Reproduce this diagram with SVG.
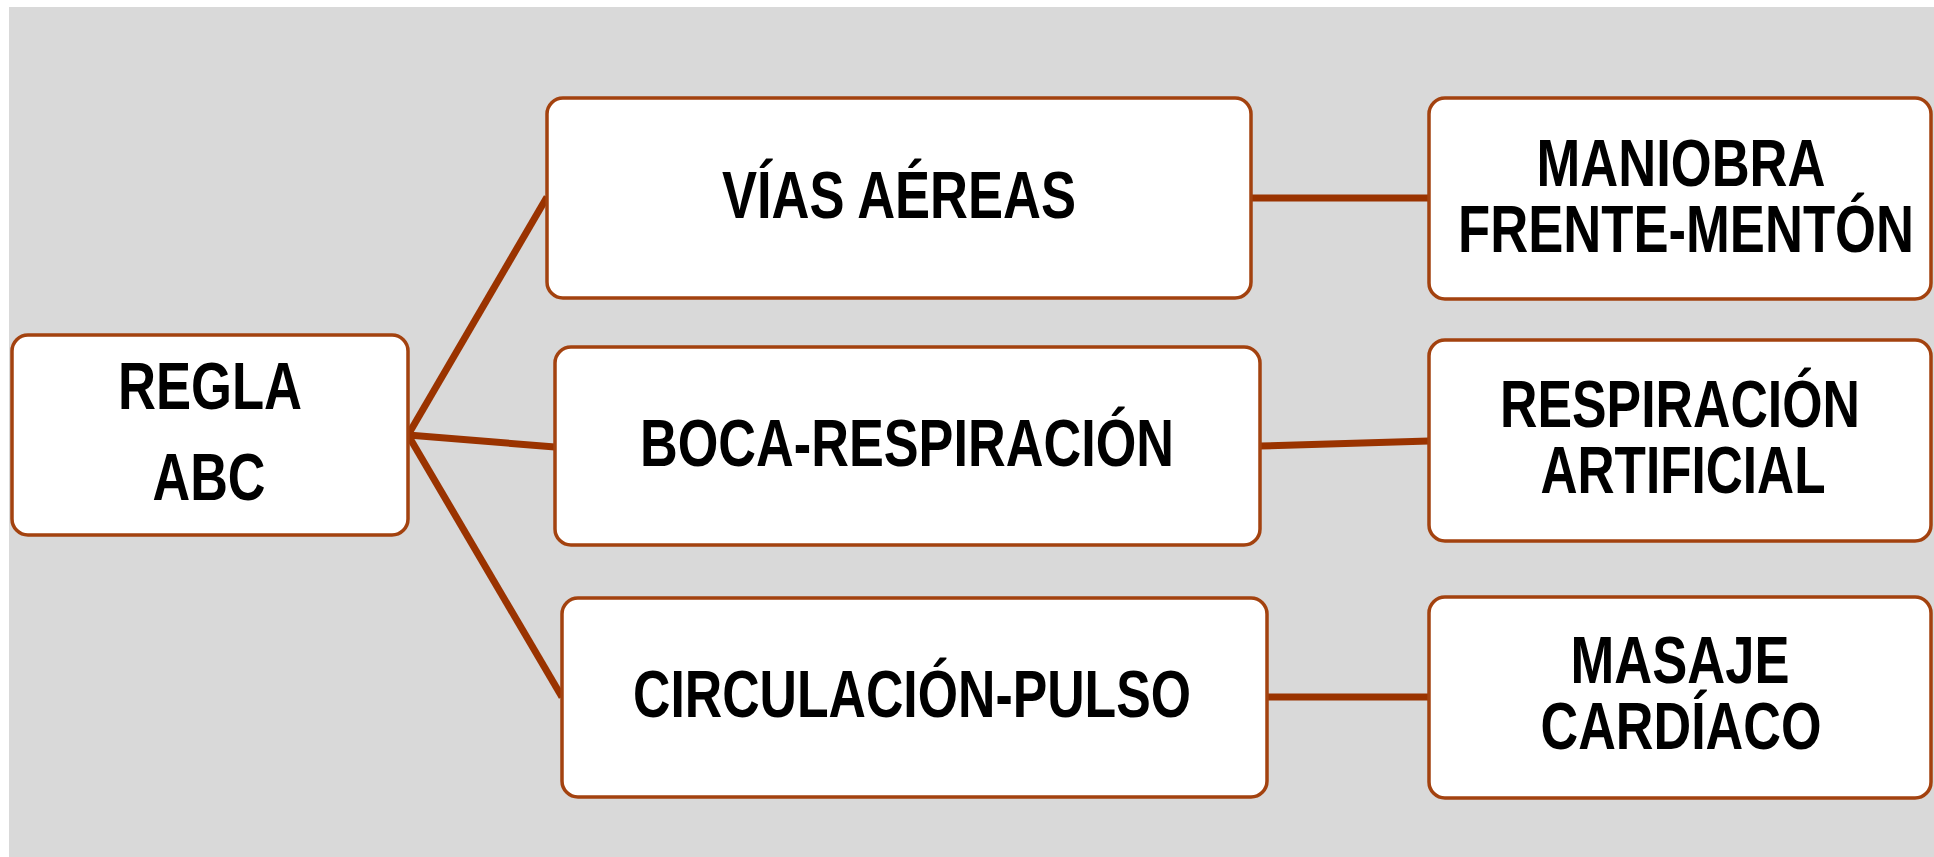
<svg xmlns="http://www.w3.org/2000/svg" width="1934" height="857" viewBox="0 0 1934 857">
<style>
.box{fill:#ffffff;stroke:#a3420f;stroke-width:3.5}
.lbl{font-family:"Liberation Sans",Arial,sans-serif;font-weight:bold;font-size:66px;fill:#000000;text-anchor:middle}
.conn{stroke:#9a3300;stroke-width:7;fill:none;stroke-linecap:butt}
</style>
<rect x="0" y="0" width="1934" height="857" fill="#ffffff"/>
<rect x="9" y="7" width="1925" height="850" fill="#d9d9d9"/>
<g id="connectors">
<line class="conn" x1="408" y1="435" x2="547" y2="197"/>
<line class="conn" x1="408" y1="435" x2="555" y2="447"/>
<line class="conn" x1="408" y1="435" x2="562" y2="697"/>
<line class="conn" x1="1251" y1="198" x2="1429" y2="198"/>
<line class="conn" x1="1260" y1="446" x2="1429" y2="441"/>
<line class="conn" x1="1267" y1="697" x2="1429" y2="697"/>
</g>
<g id="regla">
<rect class="box" x="12" y="335" width="396" height="200" rx="16"/>
<text class="lbl" x="210" y="409" textLength="184" lengthAdjust="spacingAndGlyphs">REGLA</text>
<text class="lbl" x="209" y="500" textLength="113" lengthAdjust="spacingAndGlyphs">ABC</text>
</g>
<g id="vias">
<rect class="box" x="547" y="98" width="704" height="200" rx="16"/>
<text class="lbl" x="899" y="218" textLength="354" lengthAdjust="spacingAndGlyphs">VÍAS AÉREAS</text>
</g>
<g id="boca">
<rect class="box" x="555" y="347" width="705" height="198" rx="16"/>
<text class="lbl" x="907" y="466" textLength="534" lengthAdjust="spacingAndGlyphs">BOCA-RESPIRACIÓN</text>
</g>
<g id="circulacion">
<rect class="box" x="562" y="598" width="705" height="199" rx="16"/>
<text class="lbl" x="912" y="717" textLength="558" lengthAdjust="spacingAndGlyphs">CIRCULACIÓN-PULSO</text>
</g>
<g id="maniobra">
<rect class="box" x="1429" y="98" width="502" height="201" rx="16"/>
<text class="lbl" x="1681" y="186" textLength="289" lengthAdjust="spacingAndGlyphs">MANIOBRA</text>
<text class="lbl" x="1686" y="252" textLength="456" lengthAdjust="spacingAndGlyphs">FRENTE-MENTÓN</text>
</g>
<g id="respiracion">
<rect class="box" x="1429" y="340" width="502" height="201" rx="16"/>
<text class="lbl" x="1680" y="427" textLength="360" lengthAdjust="spacingAndGlyphs">RESPIRACIÓN</text>
<text class="lbl" x="1683" y="493" textLength="285" lengthAdjust="spacingAndGlyphs">ARTIFICIAL</text>
</g>
<g id="masaje">
<rect class="box" x="1429" y="597" width="502" height="201" rx="16"/>
<text class="lbl" x="1680" y="683" textLength="219" lengthAdjust="spacingAndGlyphs">MASAJE</text>
<text class="lbl" x="1681" y="749" textLength="281" lengthAdjust="spacingAndGlyphs">CARDÍACO</text>
</g>
</svg>
